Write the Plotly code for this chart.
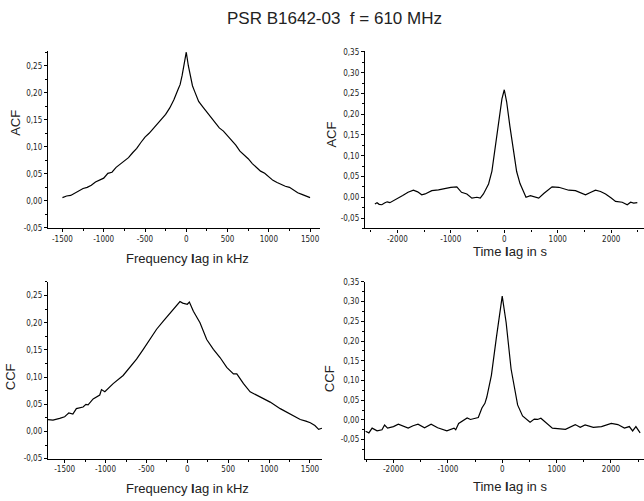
import plotly.graph_objects as go

# ---------------- data ----------------
# Panel 1: ACF vs frequency lag (kHz)
acf_f_x = [-1500, -1450, -1400, -1350, -1300, -1250, -1200, -1150, -1100, -1050,
           -1000, -950, -900, -850, -800, -750, -700, -650, -600, -550,
           -500, -450, -400, -350, -300, -250, -200, -150, -100, -75, -50, -25, 0,
           25, 50, 75, 100, 150, 200, 250, 300, 350, 400, 450, 500, 550, 600, 650,
           700, 750, 800, 850, 900, 950, 1000, 1050, 1100, 1150, 1200, 1250, 1300,
           1350, 1400, 1450, 1500]
acf_f_y = [0.006, 0.009, 0.010, 0.014, 0.018, 0.023, 0.025, 0.029, 0.035, 0.038,
           0.042, 0.051, 0.053, 0.062, 0.068, 0.075, 0.080, 0.089, 0.097, 0.108,
           0.118, 0.125, 0.134, 0.141, 0.151, 0.160, 0.172, 0.187, 0.206, 0.215, 0.232, 0.252, 0.275,
           0.250, 0.230, 0.213, 0.203, 0.184, 0.174, 0.164, 0.153, 0.143, 0.135, 0.129, 0.121, 0.113, 0.103, 0.092,
           0.085, 0.078, 0.069, 0.062, 0.055, 0.051, 0.045, 0.038, 0.034, 0.030, 0.027, 0.025, 0.020,
           0.015, 0.012, 0.009, 0.006]

# Panel 2: ACF vs time lag (s)
acf_t_x = [-2420, -2380, -2340, -2290, -2240, -2190, -2140, -2000, -1900, -1800, -1700,
           -1620, -1544, -1480, -1356, -1231, -1106, -1000, -888, -800, -700, -606,
           -512, -450, -390, -294, -231, -169, -106, -44, 0, 44, 106, 169, 231, 294,
           406, 488, 560, 644, 738, 894, 1019, 1100, 1206, 1331, 1420, 1519, 1620, 1706,
           1800, 1894, 2000, 2081, 2206, 2250, 2300, 2363, 2420, 2488]
acf_t_y = [-0.016, -0.013, -0.017, -0.018, -0.014, -0.011, -0.013, -0.004, 0.004, 0.012, 0.017,
           0.013, 0.006, 0.008, 0.016, 0.018, 0.022, 0.024, 0.025, 0.012, 0.008, -0.002,
           0.000, -0.002, 0.008, 0.032, 0.063, 0.118, 0.182, 0.237, 0.259, 0.230, 0.170, 0.110, 0.062, 0.033,
           0.000, 0.004, 0.001, -0.002, 0.009, 0.025, 0.024, 0.021, 0.017, 0.016, 0.011, 0.006, 0.012, 0.017,
           0.014, 0.008, -0.002, -0.010, -0.012, -0.015, -0.018, -0.012, -0.014, -0.013]

# Panel 3: CCF vs frequency lag (kHz)
ccf_f_x = [-1704, -1643, -1561, -1500, -1479, -1450, -1400, -1357, -1275, -1240, -1214,
           -1152, -1071, -1050, -1009, -907, -785, -703, -621, -539, -458, -376,
           -294, -212, -151, -90, -57, 0, 25, 74, 155, 237, 319, 400, 482, 564, 605,
           687, 768, 891, 1013, 1136, 1259, 1300, 1381, 1450, 1504, 1560, 1606, 1647]
ccf_f_y = [0.022, 0.021, 0.024, 0.027, 0.030, 0.034, 0.032, 0.042, 0.045, 0.050, 0.049,
           0.060, 0.067, 0.077, 0.073, 0.088, 0.103, 0.118, 0.133, 0.151, 0.169, 0.188,
           0.203, 0.218, 0.227, 0.239, 0.236, 0.234, 0.238, 0.221, 0.200, 0.169, 0.151, 0.136, 0.118, 0.106, 0.106,
           0.088, 0.073, 0.064, 0.054, 0.042, 0.032, 0.030, 0.022, 0.019, 0.016, 0.011, 0.004, 0.006]

# Panel 4: CCF vs time lag (s)
ccf_t_x = [-2512, -2452, -2392, -2301, -2211, -2163, -2108, -2000, -1910, -1729, -1639,
           -1548, -1428, -1307, -1187, -1018, -886, -855, -801, -645, -584, -500, -440,
           -373, -318, -283, -199, -108, -48, 0, 72, 163, 283, 374, 512, 590, 651, 711,
           922, 1042, 1163, 1343, 1434, 1524, 1675, 1825, 2006, 2127, 2247, 2337, 2398, 2458, 2536]
ccf_t_y = [-0.029, -0.033, -0.021, -0.028, -0.025, -0.013, -0.021, -0.017, -0.011, -0.021, -0.015,
           -0.011, -0.020, -0.011, -0.020, -0.028, -0.021, -0.025, -0.009, 0.005, 0.001, 0.003, 0.006,
           0.030, 0.042, 0.058, 0.113, 0.208, 0.267, 0.314, 0.247, 0.129, 0.038, 0.010, -0.006, 0.002, 0.001, 0.004,
           -0.021, -0.023, -0.024, -0.012, -0.019, -0.013, -0.019, -0.017, -0.009, -0.012, -0.021, -0.017, -0.028, -0.017, -0.033]

# Tick values and labels
freq_ticks = [-1500, -1000, -500, 0, 500, 1000, 1500]
freq_labels = ["-1500", "-1000", "-500", "0", "500", "1000", "1500"]
time_ticks = [-2000, -1000, 0, 1000, 2000]
time_labels = ["-2000", "-1000", "0", "1000", "2000"]
corr_ticks = [-0.05, 0.00, 0.05, 0.10, 0.15, 0.20, 0.25, 0.30, 0.35]
corr_labels = ["-0,05", "0,00", "0,05", "0,10", "0,15", "0,20", "0,25", "0,30", "0,35"]

title_text = "PSR B1642-03 \u00a0f = 610 MHz"
freq_title = "Frequency <b>l</b>ag in kHz"
time_title = "Time <b>l</b>ag in s"

W, H = 644, 501
FONT = "Liberation Sans, Arial, Helvetica, sans-serif"
TICKFONT = "Liberation Sans Narrow, Arial Narrow, DejaVu Sans Condensed, Liberation Sans, sans-serif"
TXT = "#222222"

def px(x):
    return x / W

def py(y):
    return 1 - y / H

fig = go.Figure()

panels = [
    (acf_f_x, acf_f_y, "x", "y", (48, 320), (48, 228), (-1675, 1620), (-0.05, 0.277), "f"),
    (acf_t_x, acf_t_y, "x2", "y2", (365, 644), (48, 228.5), (-2605, 2613), (-0.075, 0.352), "t"),
    (ccf_f_x, ccf_f_y, "x3", "y3", (48, 322), (283, 463), (-1704, 1647), (-0.05, 0.275), "f"),
    (ccf_t_x, ccf_t_y, "x4", "y4", (365, 644), (283, 463), (-2523, 2607), (-0.0985, 0.35), "t"),
]

for i, (xs, ys, xa, ya, xd, yd, xr, yr, kind) in enumerate(panels):
    fig.add_trace(go.Scatter(x=xs, y=ys, mode="lines", xaxis=xa, yaxis=ya,
                             line=dict(color="black", width=1.2), showlegend=False,
                             hoverinfo="skip"))
    n = "" if i == 0 else str(i + 1)
    common = dict(showline=True, linecolor="black", linewidth=1.3, ticks="outside",
                  ticklen=3, tickwidth=1, tickcolor="black", showgrid=False, zeroline=False,
                  tickfont=dict(family=TICKFONT, size=8, color=TXT), mirror=False)
    if kind == "f":
        tv, tt, mstep = freq_ticks, freq_labels, 250
    else:
        tv, tt, mstep = time_ticks, time_labels, 500
    fig.update_layout(**{
        "xaxis" + n: dict(domain=[px(xd[0]), px(xd[1])], range=list(xr), anchor=ya,
                          tickmode="array", tickvals=tv, ticktext=tt,
                          minor=dict(tickmode="linear", tick0=0, dtick=mstep, ticks="outside",
                                     ticklen=2, tickcolor="black", showgrid=False),
                          **common),
        "yaxis" + n: dict(domain=[py(yd[1]), py(yd[0])], range=list(yr), anchor=xa,
                          tickmode="array", tickvals=corr_ticks, ticktext=corr_labels,
                          minor=dict(tickmode="linear", tick0=0, dtick=0.025, ticks="outside",
                                     ticklen=2, tickcolor="black", showgrid=False),
                          **common),
    })

annotations = [
    dict(text=title_text, x=px(334), y=py(15), font=dict(size=17)),
    dict(text="ACF", x=px(16), y=py(121), textangle=-90, font=dict(size=13)),
    dict(text="ACF", x=px(332), y=py(133), textangle=-90, font=dict(size=13)),
    dict(text="CCF", x=px(10), y=py(380), textangle=-90, font=dict(size=13)),
    dict(text="CCF", x=px(329), y=py(382), textangle=-90, font=dict(size=13)),
    dict(text=freq_title, x=px(187), y=py(259), font=dict(size=13)),
    dict(text=time_title, x=px(510), y=py(252), font=dict(size=13)),
    dict(text=freq_title, x=px(187), y=py(493.5), font=dict(size=13)),
    dict(text=time_title, x=px(510), y=py(491), font=dict(size=13)),
]
for a in annotations:
    a.update(xref="paper", yref="paper", showarrow=False, xanchor="center", yanchor="middle")
    a["font"].update(family=FONT, color=TXT)

fig.update_layout(width=W, height=H, margin=dict(l=0, r=0, t=0, b=0),
                  paper_bgcolor="white", plot_bgcolor="white",
                  annotations=annotations,
                  font=dict(family=FONT, color=TXT))

fig.write_html("out.html", config={"displayModeBar": False})
